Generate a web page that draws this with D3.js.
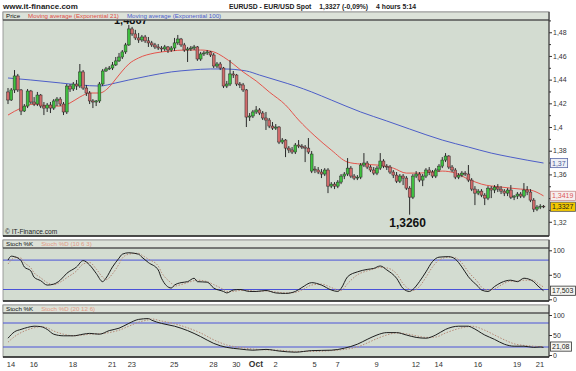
<!DOCTYPE html>
<html lang="en">
<head>
<meta charset="UTF-8">
<title>EURUSD - EUR/USD Spot, 4 hours</title>
<script src="https://d3js.org/d3.v7.min.js"></script>
<style>
  body { margin: 0; background: #fff; }
  svg { display: block; font-family: "Liberation Sans", Arial, sans-serif; }
  .axis text { font-size: 7px; fill: #333; }
  .axis line { stroke: #333; }
  .axis path { display: none; }
</style>
</head>
<body>
<div id="chart"></div>
<script>
// 4 hour candles, Sep 14 - Oct 21
const open = [
  1.4296,1.4228,1.4313,1.4431,1.4313,1.4135,1.4177,1.4304,1.4211,1.4194,
  1.4270,1.4177,1.4160,1.4186,1.4160,1.4220,1.4236,1.4194,1.4127,1.4346,
  1.4321,1.4363,1.4346,1.4465,1.4329,1.4287,1.4220,1.4211,1.4220,1.4363,
  1.4473,1.4490,1.4498,1.4524,1.4558,1.4591,1.4634,1.4693,1.4828,1.4786,
  1.4752,1.4735,1.4760,1.4727,1.4710,1.4693,1.4676,1.4667,1.4659,1.4676,
  1.4650,1.4667,1.4710,1.4743,1.4693,1.4650,1.4659,1.4667,1.4676,1.4574,
  1.4617,1.4625,1.4634,1.4608,1.4515,1.4532,1.4498,1.4346,1.4363,1.4448,
  1.4439,1.4363,1.4355,1.4313,1.4084,1.4093,1.4127,1.4144,1.4118,1.4076,
  1.4059,1.4008,1.3991,1.4000,1.3873,1.3890,1.3822,1.3806,1.3789,1.3848,
  1.3839,1.3831,1.3822,1.3628,1.3645,1.3637,1.3620,1.3603,1.3637,1.3501,
  1.3518,1.3501,1.3535,1.3586,1.3603,1.3653,1.3586,1.3569,1.3577,1.3679,
  1.3696,1.3662,1.3637,1.3611,1.3653,1.3713,1.3670,1.3662,1.3620,1.3594,
  1.3543,1.3586,1.3569,1.3484,1.3408,1.3586,1.3603,1.3552,1.3586,1.3637,
  1.3620,1.3586,1.3637,1.3670,1.3721,1.3755,1.3662,1.3637,1.3577,1.3594,
  1.3611,1.3603,1.3552,1.3476,1.3442,1.3459,1.3425,1.3400,1.3484,1.3468,
  1.3493,1.3476,1.3459,1.3442,1.3468,1.3408,1.3417,1.3434,1.3417,1.3468,
  1.3451,1.3383,1.3307,1.3324,1.3332
];
const high = [
  1.4329,1.4329,1.4481,1.4448,1.4321,1.4194,1.4321,1.4313,1.4253,1.4296,
  1.4279,1.4211,1.4203,1.4211,1.4236,1.4253,1.4253,1.4211,1.4363,1.4363,
  1.4380,1.4397,1.4532,1.4481,1.4355,1.4304,1.4236,1.4228,1.4380,1.4490,
  1.4507,1.4515,1.4549,1.4591,1.4625,1.4650,1.4710,1.4862,1.4845,1.4820,
  1.4794,1.4777,1.4777,1.4760,1.4727,1.4710,1.4701,1.4684,1.4693,1.4684,
  1.4684,1.4752,1.4777,1.4752,1.4710,1.4676,1.4684,1.4693,1.4684,1.4634,
  1.4642,1.4650,1.4642,1.4625,1.4549,1.4549,1.4507,1.4389,1.4566,1.4473,
  1.4448,1.4380,1.4372,1.4321,1.4118,1.4144,1.4177,1.4160,1.4135,1.4127,
  1.4076,1.4042,1.4025,1.4008,1.3907,1.3898,1.3839,1.3831,1.3865,1.3890,
  1.3856,1.3848,1.3907,1.3797,1.3670,1.3662,1.3645,1.3653,1.3653,1.3535,
  1.3535,1.3552,1.3603,1.3620,1.3738,1.3670,1.3603,1.3594,1.3696,1.3780,
  1.3713,1.3679,1.3662,1.3670,1.3780,1.3729,1.3687,1.3679,1.3637,1.3620,
  1.3603,1.3603,1.3586,1.3501,1.3603,1.3628,1.3620,1.3603,1.3653,1.3662,
  1.3637,1.3653,1.3687,1.3746,1.3780,1.3763,1.3679,1.3653,1.3611,1.3628,
  1.3628,1.3679,1.3569,1.3501,1.3476,1.3476,1.3442,1.3501,1.3501,1.3510,
  1.3518,1.3501,1.3476,1.3484,1.3510,1.3425,1.3451,1.3451,1.3527,1.3501,
  1.3476,1.3400,1.3341,1.3349,1.3341
];
const low = [
  1.4194,1.4220,1.4287,1.4296,1.4101,1.4127,1.4160,1.4194,1.4177,1.4177,
  1.4160,1.4101,1.4127,1.4118,1.4144,1.4177,1.4177,1.4101,1.4110,1.4296,
  1.4304,1.4313,1.4329,1.4313,1.4262,1.4194,1.4160,1.4177,1.4203,1.4346,
  1.4465,1.4481,1.4481,1.4515,1.4549,1.4574,1.4617,1.4684,1.4769,1.4735,
  1.4710,1.4718,1.4710,1.4676,1.4676,1.4659,1.4650,1.4634,1.4642,1.4625,
  1.4634,1.4642,1.4693,1.4676,1.4634,1.4549,1.4642,1.4650,1.4558,1.4558,
  1.4600,1.4608,1.4591,1.4498,1.4498,1.4481,1.4329,1.4329,1.4346,1.4414,
  1.4346,1.4329,1.4296,1.4000,1.4051,1.4076,1.4110,1.4101,1.4059,1.3975,
  1.3991,1.3975,1.3975,1.3856,1.3856,1.3746,1.3780,1.3772,1.3772,1.3822,
  1.3814,1.3704,1.3772,1.3611,1.3611,1.3603,1.3569,1.3586,1.3442,1.3484,
  1.3476,1.3484,1.3518,1.3560,1.3586,1.3569,1.3552,1.3552,1.3560,1.3662,
  1.3645,1.3620,1.3594,1.3594,1.3637,1.3653,1.3637,1.3603,1.3569,1.3527,
  1.3527,1.3510,1.3468,1.3260,1.3392,1.3569,1.3535,1.3501,1.3569,1.3594,
  1.3569,1.3569,1.3620,1.3653,1.3704,1.3645,1.3620,1.3560,1.3560,1.3577,
  1.3586,1.3535,1.3459,1.3341,1.3425,1.3408,1.3341,1.3383,1.3400,1.3442,
  1.3451,1.3434,1.3417,1.3417,1.3392,1.3383,1.3392,1.3400,1.3400,1.3425,
  1.3366,1.3282,1.3290,1.3307,1.3315
];
const close = [
  1.4228,1.4313,1.4431,1.4313,1.4135,1.4177,1.4304,1.4211,1.4194,1.4270,
  1.4177,1.4160,1.4186,1.4160,1.4220,1.4236,1.4194,1.4127,1.4346,1.4321,
  1.4363,1.4346,1.4465,1.4329,1.4287,1.4220,1.4211,1.4220,1.4363,1.4473,
  1.4490,1.4498,1.4524,1.4558,1.4591,1.4634,1.4693,1.4828,1.4786,1.4752,
  1.4735,1.4760,1.4727,1.4710,1.4693,1.4676,1.4667,1.4659,1.4676,1.4650,
  1.4667,1.4710,1.4743,1.4693,1.4650,1.4659,1.4667,1.4676,1.4574,1.4617,
  1.4625,1.4634,1.4608,1.4515,1.4532,1.4498,1.4346,1.4363,1.4448,1.4439,
  1.4363,1.4355,1.4313,1.4084,1.4093,1.4127,1.4144,1.4118,1.4076,1.4059,
  1.4008,1.3991,1.4000,1.3873,1.3890,1.3822,1.3806,1.3789,1.3848,1.3839,
  1.3831,1.3822,1.3789,1.3772,1.3637,1.3620,1.3603,1.3637,1.3501,1.3518,
  1.3501,1.3535,1.3586,1.3603,1.3653,1.3586,1.3569,1.3577,1.3679,1.3696,
  1.3662,1.3637,1.3611,1.3653,1.3713,1.3670,1.3662,1.3620,1.3594,1.3543,
  1.3586,1.3569,1.3484,1.3408,1.3586,1.3603,1.3552,1.3586,1.3637,1.3620,
  1.3586,1.3637,1.3670,1.3721,1.3755,1.3662,1.3637,1.3577,1.3594,1.3611,
  1.3603,1.3552,1.3476,1.3442,1.3459,1.3425,1.3400,1.3484,1.3468,1.3493,
  1.3476,1.3459,1.3442,1.3468,1.3408,1.3417,1.3434,1.3417,1.3468,1.3451,
  1.3383,1.3307,1.3324,1.3332,1.3327
];

// moving averages, read at these candle positions
const ema21At = [0,4,8,13,16,19,22,25,28,31,33,35,37,40,45,50,54,59,63,66,69,72,76,80,85,89,94,99,104,108,113,118,122,126,133,137,141,145,151,157,160,164];
const ema21 = [1.4101,1.4160,1.4194,1.4177,1.4177,1.4203,1.4253,1.4287,1.4287,1.4338,1.4405,1.4473,1.4532,1.4583,1.4625,1.4642,1.4650,1.4650,1.4634,1.4591,
  1.4532,1.4465,1.4389,1.4296,1.4186,1.4059,1.3924,1.3806,1.3704,1.3687,1.3679,1.3653,1.3611,1.3611,1.3628,1.3611,1.3560,1.3518,1.3493,1.3476,1.3468,1.3419];
const ema100At = [0,7,16,22,28,33,37,43,50,56,62,66,73,77,83,88,93,99,108,116,123,133,141,148,154,164];
const ema100 = [1.4414,1.4397,1.4372,1.4355,1.4346,1.4372,1.4397,1.4431,1.4465,1.4481,1.4490,1.4490,1.4473,1.4439,1.4389,1.4346,
  1.4296,1.4228,1.4127,1.4051,1.3983,1.3890,1.3831,1.3780,1.3746,1.3696];

// Stoch (10 6 3)
const stoch1At = [0,1,2,4,5,7,8,10,12,14,16,18,21,23,25,27,29,30,32,34,35,37,40,41,43,46,47,50,51,53,55,57,58,61,63,66,67,69,71,74,
  76,79,82,85,88,90,93,96,99,101,102,104,107,110,112,114,116,119,121,123,124,126,128,130,132,135,137,139,141,144,145,147,149,151,154,156,158,161,162,164];
const stoch1K = [80,88,87,79,66,58,45,38,29,31,39,53,66,79,70,53,36,43,66,84,92,95,92,86,75,60,43,23,29,34,36,43,36,35,23,16,13,19,20,16,
  16,18,13,12,16,24,34,29,19,16,22,46,56,61,63,68,60,43,22,16,20,36,56,77,86,87,82,66,46,26,19,16,26,34,39,36,43,36,29,17.503];
const stoch1D = [72,80,85,84,75,64,54,44,34,30,35,44,58,72,75,62,45,40,52,72,84,92,94,90,82,68,55,33,27,30,34,38,39,36,30,20,16,16,18,18,
  16,17,15,13,14,19,29,31,24,19,18,32,50,58,62,65,64,52,32,20,18,26,45,66,80,86,85,74,56,34,25,19,21,29,37,37,39,39,34,25];

// Stoch (20 12 6)
const stoch2At = [0,2,4,6,8,10,12,14,17,20,23,25,28,31,34,37,40,43,44,47,51,55,59,63,67,71,75,79,83,88,93,99,103,107,110,113,116,119,122,125,
  128,131,134,138,141,142,146,149,152,155,158,161,163,164];
const stoch2K = [42,58,64,69,72,71,64,52,48,48,52,54,52,61,67,79,89,91,87,79,72,61,46,29,19,15,12,14,10,7,11,12,17,27,39,50,56,56,50,44,
  42,50,64,72,72,69,50,39,27,22,22,19,20,19];
const stoch2D = [32,46,56,63,68,71,68,60,52,48,50,52,53,56,62,72,82,88,90,85,78,68,55,38,25,19,15,13,12,9,9,11,14,20,30,41,50,55,53,48,
  44,45,55,66,71,72,62,50,38,28,24,22,21,21.08];

const priceTicks = [1.32,1.34,1.36,1.38,1.40,1.42,1.44,1.46,1.48];
const hiddenTick = 1.34; // covered by the last value boxes
const stochTicks = [0,50,100];
const stochLevels = [20,80];
const dayLabels = ["14","16","18","21","23","25","28","30","Oct","2","5","7","9","12","14","16","19","21"];
const dayLabelAt = [0,7,19,31,37,50,62,69,75,81,93,100,112,124,131,143,155,162];
const headParts = ["EURUSD - EUR/USD Spot", "1,3327 (-0,09%)", "4 hours  5:14"];

const W = 576, H = 371;
const L = 3, R = 549;
const bg = "#d3dcd1", stripBg = "#dce2d9";

const svg = d3.select("#chart").append("svg").attr("width", W).attr("height", H);

const x = d3.scaleLinear().domain([0, close.length - 1]).range([8, 543.5]);
const y = d3.scaleLinear().domain([1.308, 1.4895]).range([236, 21]);
const s1 = d3.scaleLinear().domain([0, 100]).range([299.3, 250.3]);
const s2 = d3.scaleLinear().domain([0, 100]).range([355, 315]);

const locale = d3.formatLocale({decimal: ",", thousands: ".", grouping: [3], currency: ["", ""]});

// header
svg.append("text").attr("x", 3).attr("y", 9).attr("font-size", 8).attr("font-weight", "bold")
  .attr("fill", "#222").text("www.it-finance.com");
let hx = 229;
headParts.forEach(s => {
  const t = svg.append("text").attr("x", hx).attr("y", 8.5).attr("font-size", 6.8)
    .attr("font-weight", "bold").attr("fill", "#222").text(s);
  hx += t.node().getComputedTextLength() + 8;
});

// panels
const panels = [
  {top: 12, strip: 20, bottom: 236, title: [["Price", "#111"], ["Moving average (Exponential 21)", "#e04a44"], ["Moving average (Exponential 100)", "#4a5ccc"]]},
  {top: 240, strip: 248, bottom: 301, title: [["Stoch %K", "#111"], ["Stoch %D (10 6 3)", "#e29a86"]]},
  {top: 305, strip: 313, bottom: 357, title: [["Stoch %K", "#111"], ["Stoch %D (20 12 6)", "#e29a86"]]}
];

panels.forEach((p, k) => {
  svg.append("rect").attr("x", L).attr("y", p.top).attr("width", R - L).attr("height", p.bottom - p.top)
    .attr("fill", bg).attr("stroke", "#8a8a8a").attr("stroke-width", 0.8);
  svg.append("clipPath").attr("id", "clip" + k).append("rect")
    .attr("x", L).attr("y", p.strip).attr("width", R - L).attr("height", p.bottom - p.strip);
});

const plot = svg.append("g").attr("clip-path", "url(#clip0)");

// stochastic level lines and curves
[[s1, stoch1At, stoch1K, stoch1D, 1], [s2, stoch2At, stoch2K, stoch2D, 2]].forEach(([sc, at, kv, dv, n]) => {
  const g = svg.append("g").attr("clip-path", `url(#clip${n})`);
  g.selectAll("line.level").data(stochLevels).join("line")
    .attr("x1", L).attr("x2", R).attr("y1", d => sc(d)).attr("y2", d => sc(d))
    .attr("stroke", "#4a52d8").attr("stroke-width", 1);
  const line = d3.line().x(d => x(d[0])).y(d => sc(d[1])).curve(d3.curveMonotoneX);
  g.append("path").datum(d3.zip(at, dv)).attr("d", line)
    .attr("fill", "none").attr("stroke", "#b78a78").attr("stroke-width", 1).attr("stroke-dasharray", "1.5,1.5");
  g.append("path").datum(d3.zip(at, kv)).attr("d", line)
    .attr("fill", "none").attr("stroke", "#1e1e1e").attr("stroke-width", 1);
});

// price annotations (the top one sits mostly under the title strip)
plot.append("text").attr("x", x(37) + 2).attr("y", 23.5).attr("text-anchor", "middle")
  .attr("font-size", 11).attr("font-weight", "bold").attr("fill", "#111").text("1,4867");
plot.append("text").attr("x", x(123) - 2).attr("y", y(1.3260) + 12).attr("text-anchor", "middle")
  .attr("font-size", 12).attr("font-weight", "bold").attr("fill", "#111").text("1,3260");

// moving averages
const maLine = d3.line().x(d => x(d[0])).y(d => y(d[1])).curve(d3.curveMonotoneX);
plot.append("path").datum(d3.zip(ema100At, ema100)).attr("d", maLine)
  .attr("fill", "none").attr("stroke", "#4d5ec8").attr("stroke-width", 1);
plot.append("path").datum(d3.zip(ema21At, ema21)).attr("d", maLine)
  .attr("fill", "none").attr("stroke", "#e4544c").attr("stroke-width", 1);

// candles
const candles = d3.range(close.length).map(i => ({i, o: open[i], h: high[i], l: low[i], c: close[i]}));
const cg = plot.selectAll("g.candle").data(candles).join("g");
cg.append("line")
  .attr("x1", d => x(d.i)).attr("x2", d => x(d.i))
  .attr("y1", d => y(d.h)).attr("y2", d => y(d.l))
  .attr("stroke", "#2a2a2a").attr("stroke-width", 1);
cg.append("rect")
  .attr("x", d => x(d.i) - 1.4).attr("width", 2.8)
  .attr("y", d => y(Math.max(d.o, d.c)))
  .attr("height", d => Math.max(0.8, Math.abs(y(d.o) - y(d.c))))
  .attr("fill", d => d.c >= d.o ? "#3fc03f" : "#d06a6a")
  .attr("stroke", "#2a2a2a").attr("stroke-width", 0.5);

// strips with titles
panels.forEach(p => {
  svg.append("rect").attr("x", L).attr("y", p.top).attr("width", R - L).attr("height", p.strip - p.top)
    .attr("fill", stripBg).attr("stroke", "#8a8a8a").attr("stroke-width", 0.8);
  svg.append("line").attr("x1", L).attr("x2", R).attr("y1", p.strip).attr("y2", p.strip)
    .attr("stroke", "#333").attr("stroke-width", 1);
  svg.append("line").attr("x1", L).attr("x2", R).attr("y1", p.bottom).attr("y2", p.bottom)
    .attr("stroke", "#222").attr("stroke-width", 1.5);
  svg.append("line").attr("x1", R).attr("x2", R).attr("y1", p.top).attr("y2", p.bottom)
    .attr("stroke", "#333").attr("stroke-width", 1);
  const t = svg.append("text").attr("y", p.strip - 1.8).attr("font-size", 6.2);
  let cx = 6;
  p.title.forEach(([s, col]) => {
    const span = t.append("tspan").attr("x", cx).attr("fill", col).text(s);
    cx += span.node().getComputedTextLength() + 8;
  });
});

svg.append("text").attr("x", 5).attr("y", 234).attr("font-size", 6.6).attr("fill", "#222").text("\u00a9 IT-Finance.com");

// right axes
const priceFmt = locale.format(".2~f");
svg.append("g").attr("class", "axis").attr("transform", `translate(${R},0)`)
  .call(d3.axisRight(y).tickValues(priceTicks.map(v => v + 0.01)).tickSize(2).tickFormat(""));
svg.append("g").attr("class", "axis").attr("transform", `translate(${R},0)`)
  .call(d3.axisRight(y).tickValues(priceTicks).tickSize(3).tickPadding(1)
    .tickFormat(v => Math.abs(v - hiddenTick) < 1e-6 ? "" : priceFmt(v)));
svg.append("g").attr("class", "axis").attr("transform", `translate(${R},0)`)
  .call(d3.axisRight(s1).tickValues(stochTicks).tickSize(3).tickPadding(1));
svg.append("g").attr("class", "axis").attr("transform", `translate(${R},0)`)
  .call(d3.axisRight(s2).tickValues(stochTicks).tickSize(3).tickPadding(1));

// last value boxes
function valueBox(yPos, label, fill, stroke, color) {
  const g = svg.append("g");
  const r = g.append("rect").attr("x", R + 1.5).attr("y", yPos - 4.6).attr("height", 9.2)
    .attr("fill", fill).attr("stroke", stroke).attr("stroke-width", 0.8);
  const t = g.append("text").attr("x", R + 3).attr("y", yPos + 2.5).attr("font-size", 7).attr("fill", color).text(label);
  r.attr("width", t.node().getComputedTextLength() + 3.5);
}
const last = close.length - 1;
valueBox(y(ema100[ema100.length - 1]), priceFmt(ema100[ema100.length - 1]), "#eef0f6", "#5b6aa8", "#4b5a98");
valueBox(y(ema21[ema21.length - 1]), locale.format(".4f")(ema21[ema21.length - 1]), "#f6eeee", "#c98a8a", "#dd5a5a");
valueBox(y(close[last]), locale.format(".4f")(close[last]), "#f3c800", "#555", "#222");
valueBox(s1(stoch1K[stoch1K.length - 1]), locale.format(".3f")(stoch1K[stoch1K.length - 1]), "#f4f4f0", "#333", "#222");
valueBox(s2(stoch2D[stoch2D.length - 1]), locale.format(".2f")(stoch2D[stoch2D.length - 1]), "#f4f4f0", "#333", "#222");

// date labels
svg.append("g").selectAll("text").data(dayLabels).join("text")
  .attr("x", (d, i) => x(dayLabelAt[i]) + 3).attr("y", 367)
  .attr("text-anchor", "middle")
  .attr("font-size", d => d === "Oct" ? 8.5 : 7.5)
  .attr("font-weight", d => d === "Oct" ? "bold" : "normal")
  .attr("fill", "#333").text(d => d);
</script>
</body>
</html>
